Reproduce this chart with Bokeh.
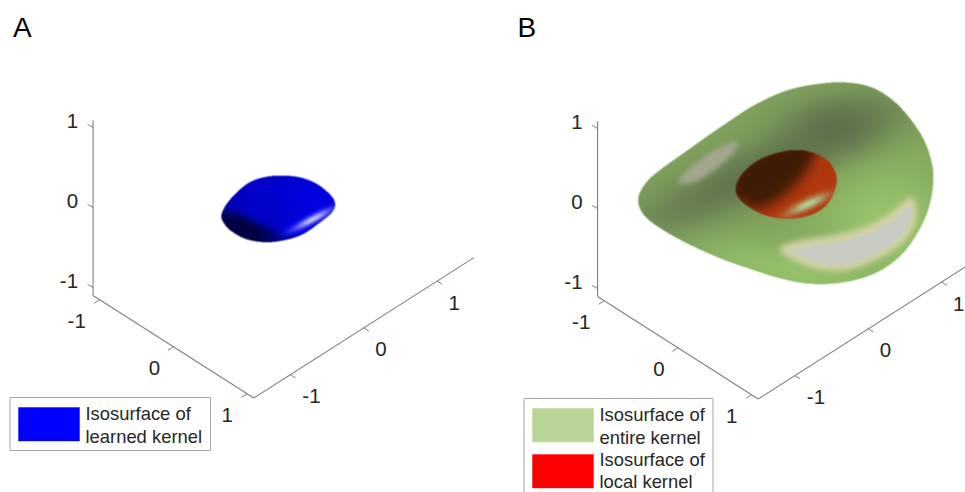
import numpy as np
from bokeh.plotting import figure
from bokeh.core.properties import value
from bokeh.embed import file_html
from bokeh.resources import INLINE

# ---------- chart content ----------
tick_values = [-1, 0, 1]
tick_labels = ["-1", "0", "1"]
panel_letters = ["A", "B"]
legend_a = [["Isosurface of", "learned kernel"]]
legend_b = [["Isosurface of", "entire kernel"], ["Isosurface of", "local kernel"]]
legend_a_colors = ["#0000ff"]
legend_b_colors = ["#b9d597", "#ff0000"]

# outlines of the isosurfaces (page pixels)
learned_x = [220.7,225,233.3,246.7,261.7,280,300,316.7,330,334.3,331.7,320,303.3,286.7,266.7,246.7,231.7,223.3]
learned_y = [215,205,195,183.3,177.3,175.3,177.3,184,195,203.3,211.7,221.7,233.3,239.3,242,239.3,231.7,223.3]
entire_x = [637.3,643.3,656.7,686.7,720,753.3,786.7,820,846.7,870,890,906.7,921.7,930,932.7,928.3,918.3,903.3,883.3,860,833.3,806.7,780,753.3,720,686.7,660,643.3]
entire_y = [200,185,171.7,150,126.7,105,90,83.3,82.3,86.7,98.3,115,136.7,158.3,180,206.7,230,251.7,268.3,278.3,283.3,283.3,278.3,270,258.3,243.3,228.3,215]
local_x = [735,738.3,750,766.7,790,810,826.7,835,835,828.3,816.7,800,780,760,743.3]
local_y = [191.7,178.3,165,155.7,150,151.7,160,173.3,186.7,201.7,211.7,217.3,218.3,213.3,203.3]

# shading regions
learned_shade = [
    ("g", 315, 195, 25, 15, 0, (0, 0, 228), 0.85),
    ("g", 224, 205, 10, 15, 0, (0, 0, 150), 0.5),
    ("p", [218,232,246,262,282,296,282,250,228], [212,213,217,226,234,240,247,247,236], 3.5, (0, 0, 62), 0.97),
    ("g", 305, 222, 24, 7, -30, (0, 0, 245), 0.85),
    ("g", 312, 219, 14, 2.6, -28, (205, 205, 255), 0.95),
]
entire_shade = [
    ("g", 885, 225, 50, 45, 0, (155, 200, 108), 0.9),
    ("g", 790, 272, 70, 16, 15, (152, 197, 107), 0.85),
    ("g", 760, 170, 100, 20, -25, (88, 103, 73), 0.8),
    ("g", 835, 125, 36, 20, -5, (90, 108, 75), 0.8),
    ("p", [676.7,690,713.3,736.7,731.7,713.3,693.3], [181.7,166.7,150,140.7,153.3,170,181.7], 2.2, (165, 168, 145), 0.95),
    ("p", [778,800,833.3,863.3,886.7,900,910,916,912,895,870,846.7,823.3,798],
          [249,240,235,227,215,204,197,208,230,248,262,270,270,263], 3, (215, 212, 170), 0.95),
    ("p", [790,811,836,865,889,902,909,911,906,890,868,846,825,804],
          [250,246,242,234,222,211,207,212,229,244,257,264,264,258], 1.2, (200, 204, 195), 1.0),
]
local_shade = [
    ("p", [730,733,745,762,790,815,805,785,760,745], [192,172,160,150,145,147,172,193,208,205], 6, (62, 27, 5), 1.0),
    ("g", 807, 204, 15, 3.6, -25, (175, 215, 155), 0.97),
]

# axis frame: limits and the projection
x_limits = [-1.5, 1.5]
y_limits = [-1.09, 1.09]
z_limits = [-1.1, 1.09]
ORIGIN = (283.0, 188.1)
EX, EY, EZ = (73.4, -46.8), (73.7, 47.0), (0.0, -80.0)
PANEL_B_SHIFT = (504.5, 1.0)
Y_LABEL_DX = [-23, -19, -20]
X_LABEL_DX = [21, 17, 17]
AXIS_COLOR = "#7f7f7f"
TEXT_COLOR = "#262626"
FONT = value("Liberation Sans")
W, H = 965, 492


def Y(py):
    return H - np.asarray(py, dtype=float)


def project(x, y, z, shift=(0, 0)):
    return (ORIGIN[0] + x * EX[0] + y * EY[0] + z * EZ[0] + shift[0],
            ORIGIN[1] + x * EX[1] + y * EY[1] + z * EZ[1] + shift[1])


def catmull(xs, ys, n=10):
    P = np.column_stack([xs, ys])
    out = []
    m = len(P)
    for i in range(m):
        a, b, c, d = P[(i - 1) % m], P[i], P[(i + 1) % m], P[(i + 2) % m]
        for t in np.linspace(0, 1, n, endpoint=False):
            out.append(0.5 * (2 * b + (c - a) * t + (2 * a - 5 * b + 4 * c - d) * t ** 2 + (3 * b - a - 3 * c + d) * t ** 3))
    return np.array(out)


def inside(poly, X, Y_):
    res = np.zeros(X.shape, dtype=bool)
    x0, y0 = poly[-1]
    for x1, y1 in poly:
        cross = (y0 > Y_) != (y1 > Y_)
        xi = x0 + (Y_ - y0) * (x1 - x0) / (y1 - y0 if y1 != y0 else 1e-9)
        res ^= cross & (X < xi)
        x0, y0 = x1, y1
    return res


def blur(a, sigma):
    r = max(1, int(3 * sigma))
    k = np.exp(-0.5 * (np.arange(-r, r + 1) / sigma) ** 2)
    k /= k.sum()
    a = np.apply_along_axis(lambda v: np.convolve(np.pad(v, r, mode="edge"), k, mode="valid"), 0, a)
    a = np.apply_along_axis(lambda v: np.convolve(np.pad(v, r, mode="edge"), k, mode="valid"), 1, a)
    return a


def render(xs, ys, base, layers, S=2):
    outline = catmull(xs, ys)
    x0, x1 = int(outline[:, 0].min()) - 4, int(outline[:, 0].max()) + 5
    y0, y1 = int(outline[:, 1].min()) - 4, int(outline[:, 1].max()) + 5
    nx, ny = (x1 - x0) * S, (y1 - y0) * S
    gx, gy = np.meshgrid(x0 + (np.arange(nx) + 0.5) / S, y0 + (np.arange(ny) + 0.5) / S)
    col = np.ones((ny, nx, 3)) * np.array(base, dtype=float)
    for L in layers:
        if L[0] == "g":
            _, cx, cy, sx, sy, ang, c, s = L
            th = np.radians(ang)
            u = (gx - cx) * np.cos(th) + (gy - cy) * np.sin(th)
            v = -(gx - cx) * np.sin(th) + (gy - cy) * np.cos(th)
            w = s * np.exp(-0.5 * ((u / sx) ** 2 + (v / sy) ** 2))
        else:
            _, px, py, sig, c, s = L
            w = s * blur(inside(catmull(px, py, 6), gx, gy).astype(float), sig * S)
        col = col * (1 - w[..., None]) + np.array(c, dtype=float) * w[..., None]
    alpha = blur(inside(outline, gx, gy).astype(float), 0.45 * S)
    img = np.zeros((ny, nx), dtype=np.uint32)
    view = img.view(dtype=np.uint8).reshape((ny, nx, 4))
    view[..., :3] = np.clip(col, 0, 255).astype(np.uint8)
    view[..., 3] = np.clip(alpha * 255, 0, 255).astype(np.uint8)
    return img[::-1], x0, y0, x1, y1


p = figure(width=W, height=H, x_range=(0, W), y_range=(0, H), x_axis_type=None, y_axis_type=None,
           toolbar_location=None, output_backend="svg", min_border=0, outline_line_color=None,
           background_fill_color="white", border_fill_color="white")
p.grid.visible = False


def draw_surface(xs, ys, base, layers):
    img, x0, y0, x1, y1 = render(xs, ys, base, layers)
    p.image_rgba(image=[img], x=x0, y=float(Y(y1)), dw=x1 - x0, dh=y1 - y0)


def tick_text(x, y, lab, align):
    p.text([x], [float(Y(y))], text=[lab], text_align=align, text_baseline="middle",
           text_font=FONT, text_font_size="20.5px", text_color=TEXT_COLOR)


def draw_axes(shift):
    segs = [
        (project(x_limits[0], y_limits[0], z_limits[0], shift), project(x_limits[0], y_limits[0], z_limits[1], shift)),
        (project(x_limits[0], y_limits[0], z_limits[0], shift), project(x_limits[0], y_limits[1], z_limits[0], shift)),
        (project(x_limits[0], y_limits[1], z_limits[0], shift), project(x_limits[1], y_limits[1], z_limits[0], shift)),
    ]
    p.multi_line([[a[0], b[0]] for a, b in segs], [list(Y([a[1], b[1]])) for a, b in segs],
                 line_color=AXIS_COLOR, line_width=1.1)
    tx, ty = [], []
    for t, lab, ydx, xdx in zip(tick_values, tick_labels, Y_LABEL_DX, X_LABEL_DX):
        a = project(x_limits[0], y_limits[0], t, shift)
        tx.append([a[0], a[0] - 5.5]); ty.append(list(Y([a[1], a[1] - 3.2])))
        tick_text(a[0] - 15, a[1] - 7, lab, "right")
        a = project(x_limits[0], t, z_limits[0], shift)
        tx.append([a[0], a[0] - 5.5]); ty.append(list(Y([a[1], a[1] + 3.5])))
        tick_text(a[0] + ydx, a[1] + 21, lab, "center")
        a = project(t, y_limits[1], z_limits[0], shift)
        tx.append([a[0], a[0] + 5]); ty.append(list(Y([a[1], a[1] + 3.3])))
        tick_text(a[0] + xdx, a[1] + 21.5, lab, "center")
    p.multi_line(tx, ty, line_color=AXIS_COLOR, line_width=1)


def draw_legend(box, rows, colors, row_tops, text_rows):
    left, right, top, bottom = box
    p.quad(left=[left], right=[right], top=[float(Y(top))], bottom=[float(Y(bottom))],
           fill_color="white", line_color="#a6a6a6", line_width=1)
    for lines, c, t, ys in zip(rows, colors, row_tops, text_rows):
        p.quad(left=[left + 8.5], right=[left + 69.5], top=[float(Y(t))], bottom=[float(Y(t + 33.5))],
               fill_color=c, line_color=c, line_alpha=0.4)
        for line, ty in zip(lines, ys):
            p.text([left + 75.5], [float(Y(ty))], text=[line], text_baseline="middle",
                   text_font=FONT, text_font_size="18.4px", text_color=TEXT_COLOR)


draw_axes((0, 0))
draw_axes(PANEL_B_SHIFT)
draw_surface(learned_x, learned_y, (0, 0, 200), learned_shade)
draw_surface(entire_x, entire_y, (128, 163, 92), entire_shade)
draw_surface(local_x, local_y, (178, 55, 14), local_shade)
draw_legend((9.5, 210, 397, 450), legend_a, legend_a_colors, [407], [[412.5, 435.5]])
draw_legend((523.5, 712.5, 398, 497), legend_b, legend_b_colors, [408, 454], [[414, 436.5], [459, 481]])
for letter, px in zip(panel_letters, [12.5, 517]):
    p.text([px], [float(Y(27))], text=[letter], text_baseline="middle",
           text_font=FONT, text_font_size="28px", text_color="#000000")

open("out.html", "w").write(file_html(p, INLINE))
